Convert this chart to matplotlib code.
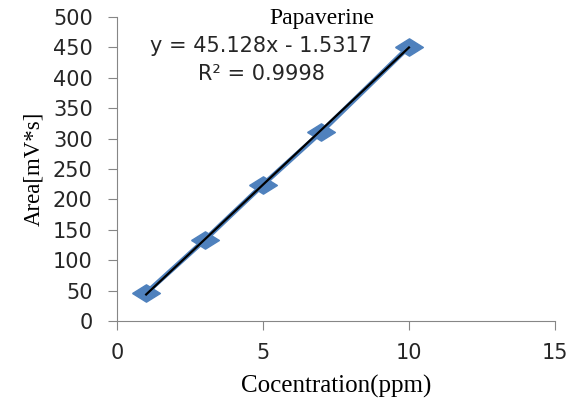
import numpy as np
import matplotlib
matplotlib.use("Agg")
import matplotlib.pyplot as plt

# calibration data
conc = [1, 3, 5, 7, 10]
area = [46, 133, 224, 311, 451]
x_ticks = [0, 5, 10, 15]
y_ticks = list(range(0, 501, 50))

slope, icpt = 45.128, -1.5317

# flat diamond like the stretched excel marker
flat_diamond = [(-1.6, 0), (0, 1), (1.6, 0), (0, -1), (-1.6, 0)]

fig = plt.figure(figsize=(5.79, 4.03), dpi=100)
ax = fig.add_axes([0.202, 0.2035, 0.7565, 0.7545])

# series line + markers, trendline on top
ax.plot(conc, area, linestyle="-", linewidth=3.5, marker=flat_diamond,
        markersize=20, color="#4F81BD", zorder=2)
xs = np.array([conc[0], conc[-1]])
ax.plot(xs, slope * xs + icpt, color="black", linewidth=1.6, zorder=3)

ax.set_xlim(0, 15)
ax.set_ylim(0, 500)
ax.set_xticks(x_ticks)
ax.set_yticks(y_ticks)

for s in ["top", "right"]:
    ax.spines[s].set_visible(False)
for s in ["left", "bottom"]:
    ax.spines[s].set_color("#868686")
ax.tick_params(colors="#868686", labelcolor="#262626", length=6.5,
               labelsize=15)
for lab in ax.get_xticklabels() + ax.get_yticklabels():
    lab.set_family("DejaVu Sans")
ax.tick_params(axis="x", pad=9)
ax.tick_params(axis="y", pad=11)

ax.set_xlabel("Cocentration(ppm)", family="Liberation Serif", fontsize=18,
              labelpad=9)
ax.set_ylabel("Area[mV*s]", family="Liberation Serif", fontsize=16.5,
              labelpad=6)

ax.text(0.468, 0.995, "Papaverine", transform=ax.transAxes, ha="center",
        va="center", family="Liberation Serif", fontsize=17)
ax.text(0.329, 0.905, "y = 45.128x - 1.5317", transform=ax.transAxes,
        ha="center", va="center", family="DejaVu Sans", fontsize=15,
        color="#262626")
ax.text(0.329, 0.8125, "R² = 0.9998", transform=ax.transAxes,
        ha="center", va="center", family="DejaVu Sans", fontsize=15,
        color="#262626")

fig.savefig("out.png", dpi=100)
